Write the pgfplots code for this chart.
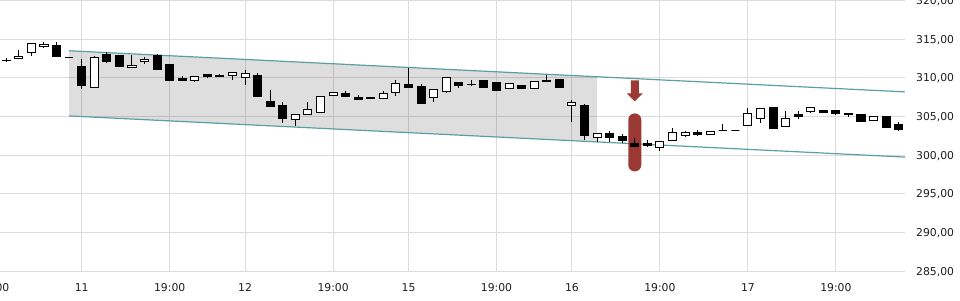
\documentclass[border=0pt]{standalone}
\usepackage{fontspec}
\setmainfont{DejaVu Sans}
\usepackage{pgfplots}
\usepackage{pgfplotstable}
\pgfplotsset{compat=1.18}
\definecolor{gridc}{RGB}{220,220,220}
\definecolor{chan}{RGB}{90,160,160}
\definecolor{markc}{RGB}{155,58,52}
\definecolor{labc}{RGB}{30,30,30}
\pgfplotstableread{
i o h l c
0 312.25 312.50 312.05 312.28
1 312.50 313.57 312.50 312.80
2 313.28 314.44 312.84 314.44
3 314.05 314.57 313.87 314.31
4 314.18 314.57 312.70 312.70
5 312.63 312.63 312.63 312.63
6 311.50 312.41 308.61 309.04
7 308.74 312.76 308.74 312.63
8 313.06 313.32 311.93 312.06
9 312.93 312.93 311.41 311.41
10 311.28 312.93 311.28 311.59
11 312.11 312.67 311.80 312.41
12 312.84 313.02 311.11 311.11
13 311.76 311.76 309.60 309.60
14 309.95 310.30 309.60 309.60
15 309.60 310.12 309.47 310.12
16 310.43 310.47 309.99 310.12
17 310.34 310.47 310.12 310.12
18 310.30 310.69 309.73 310.69
19 310.04 310.98 309.08 310.56
20 310.34 310.56 307.53 307.53
21 306.97 308.39 306.23 306.23
22 306.45 306.84 304.16 304.73
23 304.60 305.25 303.73 305.25
24 305.25 306.84 305.25 305.93
25 305.54 307.62 305.54 307.62
26 307.75 308.04 307.75 308.04
27 307.91 308.26 307.58 307.58
28 307.49 307.75 307.19 307.19
29 307.49 307.55 307.30 307.36
30 307.36 308.30 307.36 307.97
31 308.10 309.69 307.71 309.26
32 309.08 311.33 308.74 308.74
33 308.91 309.26 306.67 306.67
34 307.45 308.48 306.88 308.48
35 308.17 310.04 308.04 310.04
36 309.43 309.43 308.74 308.95
37 309.20 309.69 309.00 309.08
38 309.69 309.69 308.69 308.69
39 309.39 309.39 308.35 308.35
40 308.61 309.39 308.61 309.26
41 309.00 309.13 308.61 308.61
42 308.61 309.52 308.61 309.52
43 309.69 310.43 309.56 309.56
44 309.82 309.82 308.69 308.69
45 306.41 307.10 304.29 306.80
46 306.45 306.67 301.92 302.56
47 302.34 302.86 301.70 302.86
48 302.78 303.08 301.70 302.34
49 302.43 302.78 301.57 301.88
50 301.57 302.27 301.10 301.10
51 301.57 301.92 301.05 301.23
52 301.05 301.70 300.53 301.70
53 301.92 303.56 301.92 302.95
54 302.60 303.12 302.34 302.91
55 302.91 303.20 302.53 302.69
56 302.66 303.04 302.66 303.04
57 303.20 303.99 303.20 303.20
58 303.20 303.20 303.20 303.20
59 303.86 306.15 303.86 305.38
60 304.73 306.02 304.16 306.02
61 306.15 306.20 303.40 303.43
62 303.64 305.67 303.64 304.73
63 305.20 305.67 304.73 305.00
64 305.67 306.20 305.50 306.15
65 305.71 305.80 305.45 305.50
66 305.80 305.80 305.16 305.45
67 305.38 305.38 304.94 305.20
68 305.28 305.28 304.29 304.29
69 304.50 304.94 304.50 304.94
70 305.03 305.03 303.56 303.56
71 303.90 304.30 303.10 303.38
}\candles
\begin{document}
\begin{tikzpicture}
\begin{axis}[name=ax, scale only axis, width=905pt, height=270.6pt,
  xmin=-0.5, xmax=71.5, ymin=285, ymax=320,
  axis line style={draw=none},
  clip=false,
  xtick={6,13,19,26,32,39,45,52,59,66},
  xticklabels={11,19:00,12,19:00,15,19:00,16,19:00,17,19:00},
  ytick={285,290,295,300,305,310,315,320},
  yticklabel pos=right,
  major tick length=0pt,
  grid=major, grid style={gridc, line width=1pt},
  tick label style={font=\fontsize{10.8}{13}\selectfont, text=labc},
  xticklabel style={anchor=north, inner sep=0pt, yshift=-12.3pt},
  yticklabel style={anchor=base west, inner sep=0pt, xshift=11pt, yshift=-3.9pt},
  /pgf/number format/.cd, fixed, fixed zerofill, precision=2, use comma, 1000 sep={}, assume math mode=true,
]
% channel
\addplot[draw=none, fill=black, fill opacity=0.13, forget plot] coordinates {(5,313.5) (47,310.15) (47,301.71) (5,305.07)} -- cycle;
\addplot[chan, line width=1.2pt, forget plot] coordinates {(5,313.5) (71.5,308.18)};
\addplot[chan, line width=1.2pt, forget plot] coordinates {(5,305.07) (71.5,299.75)};
% marker
\fill[markc, rounded corners=6.4pt] ([xshift=-6.5pt]axis cs:50,305.4) rectangle ([xshift=6.5pt]axis cs:50,297.9);
\fill[markc] ([xshift=-4pt]axis cs:50,309.68) -- ([xshift=4pt]axis cs:50,309.68) -- ([xshift=4pt]axis cs:50,307.98) -- ([xshift=8pt]axis cs:50,307.98) -- (axis cs:50,306.96) -- ([xshift=-8pt]axis cs:50,307.98) -- ([xshift=-4pt]axis cs:50,307.98) -- cycle;
% candles
\pgfplotstablegetrowsof{\candles}
\pgfmathtruncatemacro{\N}{\pgfplotsretval-1}
\pgfplotsforeachungrouped \k in {0,...,\N}{%
  \pgfplotstablegetelem{\k}{i}\of\candles \let\X\pgfplotsretval
  \pgfplotstablegetelem{\k}{o}\of\candles \let\O\pgfplotsretval
  \pgfplotstablegetelem{\k}{h}\of\candles \let\H\pgfplotsretval
  \pgfplotstablegetelem{\k}{l}\of\candles \let\L\pgfplotsretval
  \pgfplotstablegetelem{\k}{c}\of\candles \let\C\pgfplotsretval
  \pgfmathsetmacro{\XL}{\X-0.32}%
  \pgfmathsetmacro{\XR}{\X+0.32}%
  \pgfmathtruncatemacro{\down}{\C<\O}%
  \ifnum\down=1 \def\fc{black}\else\def\fc{white}\fi
  \edef\temp{\noexpand\addplot[black, line width=1pt, forget plot] coordinates {(\X,\L) (\X,\H)};
    \noexpand\addplot[draw=black, line width=1pt, fill=\fc, forget plot] coordinates {(\XL,\O) (\XR,\O) (\XR,\C) (\XL,\C)} -- cycle;}%
  \temp
}
% extra label and ticks
\node[anchor=north, inner sep=0pt, font=\fontsize{10.8}{13}\selectfont, text=labc] at ([yshift=-12.3pt]axis cs:-1,285) {19:00};
\pgfplotsinvokeforeach{6,13,19,26,32,39,45,52,59,66}{\draw[labc, line width=0.8pt] (axis cs:#1,285) ++(0,-22.3pt) -- ++(0,-4pt);}
\pgfplotsinvokeforeach{285,290,295,300,305,310,315,320}{\draw[labc, line width=0.8pt] (axis cs:71.5,#1) ++(4pt,0) -- ++(4.5pt,0);}
% last price tag
\fill[black] (axis cs:71.5,303.38) ++(1pt,0) -- ++(10pt,8pt) -- ++(44pt,0) -- ++(0,-16pt) -- ++(-44pt,0) -- cycle;
\node[text=white, anchor=base west, inner sep=0pt, font=\fontsize{10.8}{13}\selectfont] at ([xshift=11pt,yshift=-3.9pt]axis cs:71.5,303.38) {303,38};
\end{axis}
\pgfresetboundingbox
\useasboundingbox (ax.south west) ++(0,-29pt) rectangle ++(960pt,300pt);
\end{tikzpicture}
\end{document}
